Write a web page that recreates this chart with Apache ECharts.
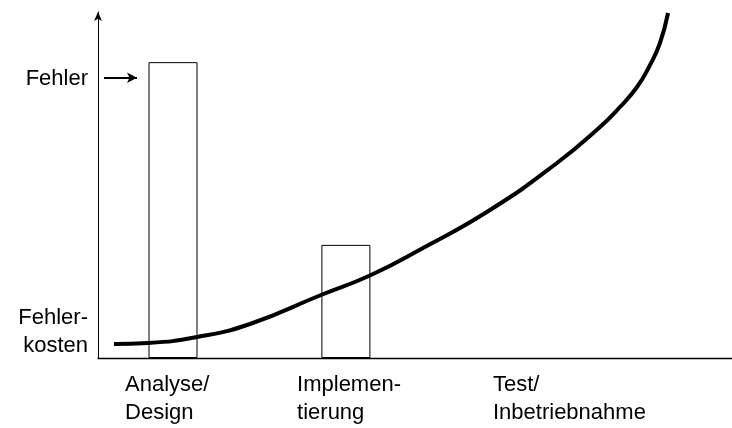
<!DOCTYPE html>
<html>
<head>
<meta charset="utf-8">
<script src="https://cdn.jsdelivr.net/npm/echarts@6/dist/echarts.min.js"></script>
<style>
html,body{margin:0;padding:0;background:#fff;}
#c{width:732px;height:428px;}
</style>
</head>
<body>
<div id="c"></div>
<script>
// Phase labels on the x axis and where they start
var phaseLabels = ['Analyse/\nDesign', 'Implemen-\ntierung', 'Test/\nInbetriebnahme'];
var phasePos = [4.26, 31.4, 62.3];

// y-axis labels and their positions
var yLabels = ['Fehler', 'Fehler-\nkosten'];
var yLabelPos = [80.6, 7.5];

// Bars: number of errors per phase (x centre, height)
var barX = [11.83, 39.1];
var barValues = [85.5, 32.7];

// Curve: error costs
var costX = [2.52, 7.89, 15.62, 23.97, 35.17, 43.06, 51.26, 61.83, 72.40, 79.18, 82.33, 85.02, 87.07, 88.64, 89.91];
var costY = [4.05, 4.34, 6.07, 9.83, 18.21, 23.99, 31.79, 42.77, 56.36, 66.76, 72.54, 78.32, 84.68, 91.04, 99.71];

// Arrow pointing from "Fehler" label to the bar
var arrowFrom = [0.95, 81];
var arrowTo = [6.15, 81];

var FONT = '"Liberation Sans", Arial, sans-serif';

var chart = echarts.init(document.getElementById('c'), null, {renderer: 'canvas'});
chart.setOption({
  animation: false,
  backgroundColor: '#fff',
  grid: {left: 98, right: 0, top: 12, bottom: 70, containLabel: false},
  xAxis: {
    type: 'value', min: 0, max: 100,
    axisLine: {show: true, lineStyle: {color: '#000', width: 1.3}},
    axisTick: {show: false},
    splitLine: {show: false},
    axisLabel: {
      customValues: phasePos,
      formatter: function (v) {
        var i = phasePos.indexOf(v);
        return i >= 0 ? phaseLabels[i] : '';
      },
      align: 'left', verticalAlign: 'top',
      margin: 13, color: '#000', fontSize: 22, lineHeight: 28, fontFamily: FONT
    }
  },
  yAxis: {
    type: 'value', min: 0, max: 100,
    axisLine: {show: true, lineStyle: {color: '#000', width: 1}, symbol: ['none', 'arrow'], symbolSize: [6, 9]},
    axisTick: {show: false},
    splitLine: {show: false},
    axisLabel: {
      customValues: yLabelPos,
      formatter: function (v) {
        var i = yLabelPos.indexOf(v);
        return i >= 0 ? yLabels[i] : '';
      },
      align: 'right',
      margin: 10, color: '#000', fontSize: 22, lineHeight: 28, fontFamily: FONT
    }
  },
  series: [
    {
      type: 'bar',
      data: barX.map(function (x, i) { return [x, barValues[i]]; }),
      barWidth: 49,
      itemStyle: {color: '#fff', borderColor: '#000', borderWidth: 1},
      z: 1
    },
    {
      type: 'line',
      data: costX.map(function (x, i) { return [x, costY[i]]; }),
      smooth: 0.5,
      showSymbol: false,
      symbol: 'none',
      clip: false,
      lineStyle: {color: '#000', width: 4},
      z: 3,
      markLine: {
        silent: true,
        symbol: ['none', 'arrow'],
        symbolSize: [8, 10],
        label: {show: false},
        lineStyle: {color: '#000', width: 2, type: 'solid'},
        data: [[{coord: arrowFrom}, {coord: arrowTo}]]
      }
    }
  ]
});
</script>
</body>
</html>
